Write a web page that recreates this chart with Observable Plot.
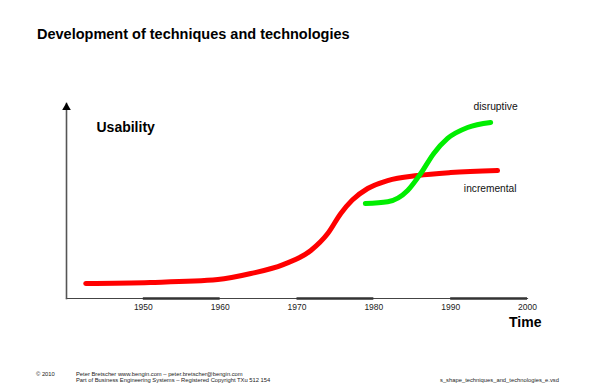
<!DOCTYPE html>
<html>
<head>
<meta charset="utf-8">
<script src="https://cdn.jsdelivr.net/npm/d3@7"></script>
<script src="https://cdn.jsdelivr.net/npm/@observablehq/plot@0.6"></script>
<style>
  html, body { margin: 0; padding: 0; background: #fff; }
  #wrap { position: relative; width: 605px; height: 391px; overflow: hidden; font-family: "Liberation Sans", Arial, sans-serif; }
  #chart { position: absolute; left: 0; top: 0; }
  .title { position: absolute; left: 37px; top: 26px; font-size: 14.5px; font-weight: bold; color: #000; white-space: nowrap; }
  .foot { position: absolute; font-size: 5.8px; line-height: 6.5px; color: #222; white-space: nowrap; }
</style>
</head>
<body>
<div id="wrap">
  <div class="title">Development of techniques and technologies</div>
  <div id="chart"></div>
  <div class="foot" style="left:36px; top:370.5px;">© 2010</div>
  <div class="foot" style="left:76px; top:370.5px;">Peter Bretscher www.bengin.com – peter.bretscher@bengin.com<br>Part of Business Engineering Systems – Registered Copyright TXu 512 154</div>
  <div class="foot" style="left:440px; top:377px;">s_shape_techniques_and_technologies_e.vsd</div>
</div>
<script>
// Incremental technology (red S-curve)
const incrementalYears = [1942.5, 1950.9, 1959.7, 1964.0, 1968.2, 1971.8, 1974.0, 1975.7, 1977.2, 1979.2, 1981.8, 1985.7, 1990.0, 1996.1];
const incrementalUsability = [7.7, 8.2, 9.7, 12.8, 17.4, 24.6, 33.3, 43.6, 50.5, 56.4, 60.5, 63.1, 64.6, 65.6];

// Disruptive technology (green S-curve)
const disruptiveYears = [1978.9, 1981.8, 1984.4, 1986.1, 1987.8, 1989.6, 1992.2, 1995.2];
const disruptiveUsability = [48.7, 49.6, 55.4, 64.1, 74.4, 82.1, 87.7, 90.3];

// Time axis
const tickYears = [1950, 1960, 1970, 1980, 1990, 2000];
const bandStart = [1950, 1970, 1990];
const bandEnd = [1960, 1980, 2000];

const incremental = incrementalYears.map((x, i) => ({x, y: incrementalUsability[i]}));
const disruptive = disruptiveYears.map((x, i) => ({x, y: disruptiveUsability[i]}));
const bands = bandStart.map((s, i) => ({s, e: bandEnd[i]}));

const font = "Liberation Sans, Arial, sans-serif";

const chart = Plot.plot({
  width: 605,
  height: 391,
  marginLeft: 66,
  marginRight: 78,
  marginTop: 103,
  marginBottom: 93,
  style: {fontFamily: font, background: "transparent", overflow: "visible"},
  x: {domain: [1940, 2000], axis: null},
  y: {domain: [0, 100], axis: null},
  marks: [
    Plot.frame({anchor: "bottom", stroke: "#444", strokeWidth: 1.2}),
    Plot.frame({anchor: "left", stroke: "#555", strokeWidth: 1.6}),
    Plot.ruleY(bands, {x1: "s", x2: "e", y: 0, stroke: "#333", strokeWidth: 2.6}),
    Plot.dot([0], {frameAnchor: "top-left", symbol: "triangle", r: 3.2, fill: "#000", stroke: "none", dy: 4}),
    Plot.axisX({ticks: tickYears, tickFormat: "d", tickSize: 0, tickPadding: 5, fontSize: 8.5, fill: "#222"}),
    Plot.line(incremental, {x: "x", y: "y", curve: "monotone-x", stroke: "#ff0000", strokeWidth: 5, strokeLinecap: "round"}),
    Plot.line(disruptive, {x: "x", y: "y", curve: "monotone-x", stroke: "#00ee00", strokeWidth: 5, strokeLinecap: "round"}),
    Plot.text(disruptive, Plot.selectLast({x: "x", y: "y", text: () => "disruptive", textAnchor: "end", dx: 27, dy: -16, fontSize: 10.3, fill: "#111"})),
    Plot.text(incremental, Plot.selectLast({x: "x", y: "y", text: () => "incremental", textAnchor: "end", dx: 19, dy: 18, fontSize: 10.2, fill: "#111"})),
    Plot.text(["Usability"], {frameAnchor: "top-left", text: d => d, textAnchor: "start", dx: 30, dy: 18.5, fontSize: 14, fontWeight: "bold", fill: "#000"}),
    Plot.text(["Time"], {frameAnchor: "bottom-right", text: d => d, textAnchor: "end", dx: 14, dy: 28.5, fontSize: 14, fontWeight: "bold", fill: "#000"})
  ]
});
document.getElementById("chart").appendChild(chart);
</script>
</body>
</html>
